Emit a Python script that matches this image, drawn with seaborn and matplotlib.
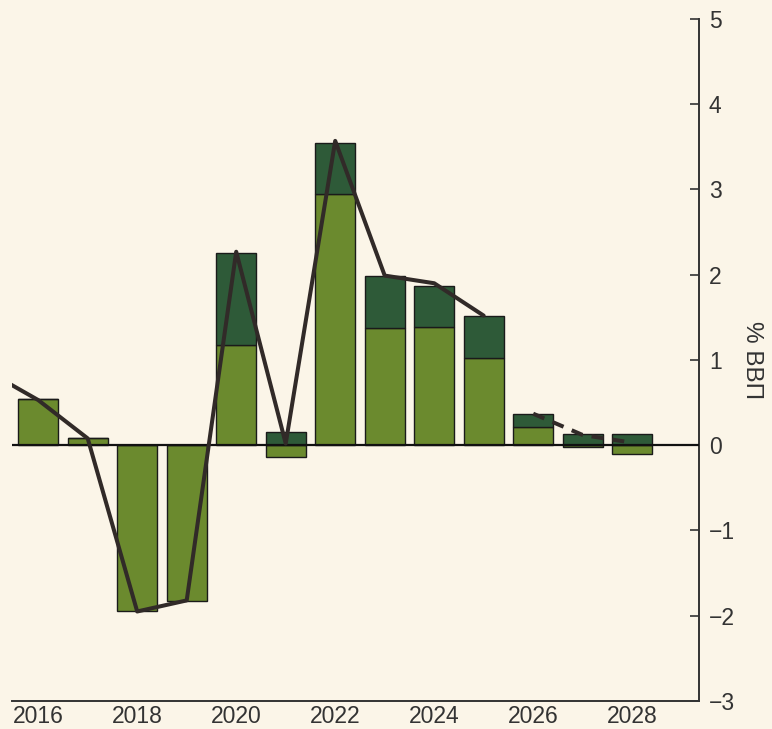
import matplotlib
matplotlib.use("Agg")
import matplotlib.pyplot as plt
import seaborn as sns
import pandas as pd
import numpy as np
from matplotlib import font_manager

# ---- data ----
years = [2016, 2017, 2018, 2019, 2020, 2021, 2022, 2023, 2024, 2025, 2026, 2027, 2028]
light_vals = [0.54, 0.08, -1.95, -1.83, 1.17, -0.14, 2.95, 1.37, 1.39, 1.02, 0.21, -0.02, -0.10]
dark_vals = [0.00, 0.00, 0.00, 0.00, 1.08, 0.15, 0.60, 0.61, 0.48, 0.50, 0.16, 0.13, 0.13]
line_years = [2015, 2016, 2017, 2018, 2019, 2020, 2021, 2022, 2023, 2024, 2025]
line_vals = [0.86, 0.53, 0.08, -1.95, -1.82, 2.27, 0.02, 3.57, 1.99, 1.90, 1.52]
dash_years = [2026, 2027, 2028]
dash_vals = [0.37, 0.12, 0.03]
xticks = [2016, 2018, 2020, 2022, 2024, 2026, 2028]
yticks = [-3, -2, -1, 0, 1, 2, 3, 4, 5]
ylabel = "% ВВП"

BG = "#FBF5E8"
LIGHT = "#6B8A2E"
DARK = "#2E5A38"
LINE = "#312A28"
TXT = "#333333"

sns.set_style("white")
plt.rcParams["font.family"] = ["Liberation Sans", "DejaVu Sans"]

names = {f.name for f in font_manager.fontManager.ttflist}
if "Liberation Sans Narrow" in names:
    xfam, xsize = "Liberation Sans Narrow", 19
else:
    xfam, xsize = "Liberation Sans", 16.5

fig = plt.figure(figsize=(7.72, 7.29), dpi=100)
fig.patch.set_facecolor(BG)
ax = fig.add_axes([0.0155, 0.0384, 0.9055 - 0.0155, 0.974 - 0.0384])
ax.set_facecolor(BG)

light = np.array(light_vals)
dark = np.array(dark_vals)
bottom_dark = np.where(light > 0, light, 0.0)

ax.bar(years, light, width=0.8, color=LIGHT, edgecolor="#1a1a1a", linewidth=1.0, zorder=2)
ax.bar(years, dark, width=0.8, bottom=bottom_dark, color=DARK, edgecolor="#1a1a1a",
       linewidth=1.0, zorder=2)

ax.axhline(0, color="#111111", linewidth=1.6, zorder=3)

df_solid = pd.DataFrame({"year": line_years, "value": line_vals})
df_dash = pd.DataFrame({"year": dash_years, "value": dash_vals})
sns.lineplot(data=df_solid, x="year", y="value", color=LINE, linewidth=2.9, ax=ax, zorder=4)
sns.lineplot(data=df_dash, x="year", y="value", color=LINE, linewidth=2.9, ax=ax, zorder=4,
             linestyle=(0, (3, 2.2)))

ax.set_xlim(2015.47, 2029.35)
ax.set_ylim(-3, 5)

ax.yaxis.tick_right()
ax.yaxis.set_label_position("right")
ax.set_yticks(yticks)
ax.set_xticks(xticks)
ax.set_xticklabels([str(t) for t in xticks], fontfamily=xfam, fontsize=xsize, color=TXT)
ax.set_xlabel("")
ax.set_ylabel(ylabel, rotation=270, fontsize=17.5, color=TXT, labelpad=20)

for s in ["left", "top"]:
    ax.spines[s].set_visible(False)
for s in ["right", "bottom"]:
    ax.spines[s].set_visible(True)
    ax.spines[s].set_color(TXT)
    ax.spines[s].set_linewidth(1.4)

ax.tick_params(axis="y", direction="in", length=6.3, width=1.2, color=TXT,
               labelsize=16.5, labelcolor=TXT, pad=7, left=False, right=True)
ax.tick_params(axis="x", direction="in", length=6.3, width=1.2, color=TXT,
               labelcolor=TXT, pad=3)

fig.savefig("out.png", dpi=100, facecolor=BG)
